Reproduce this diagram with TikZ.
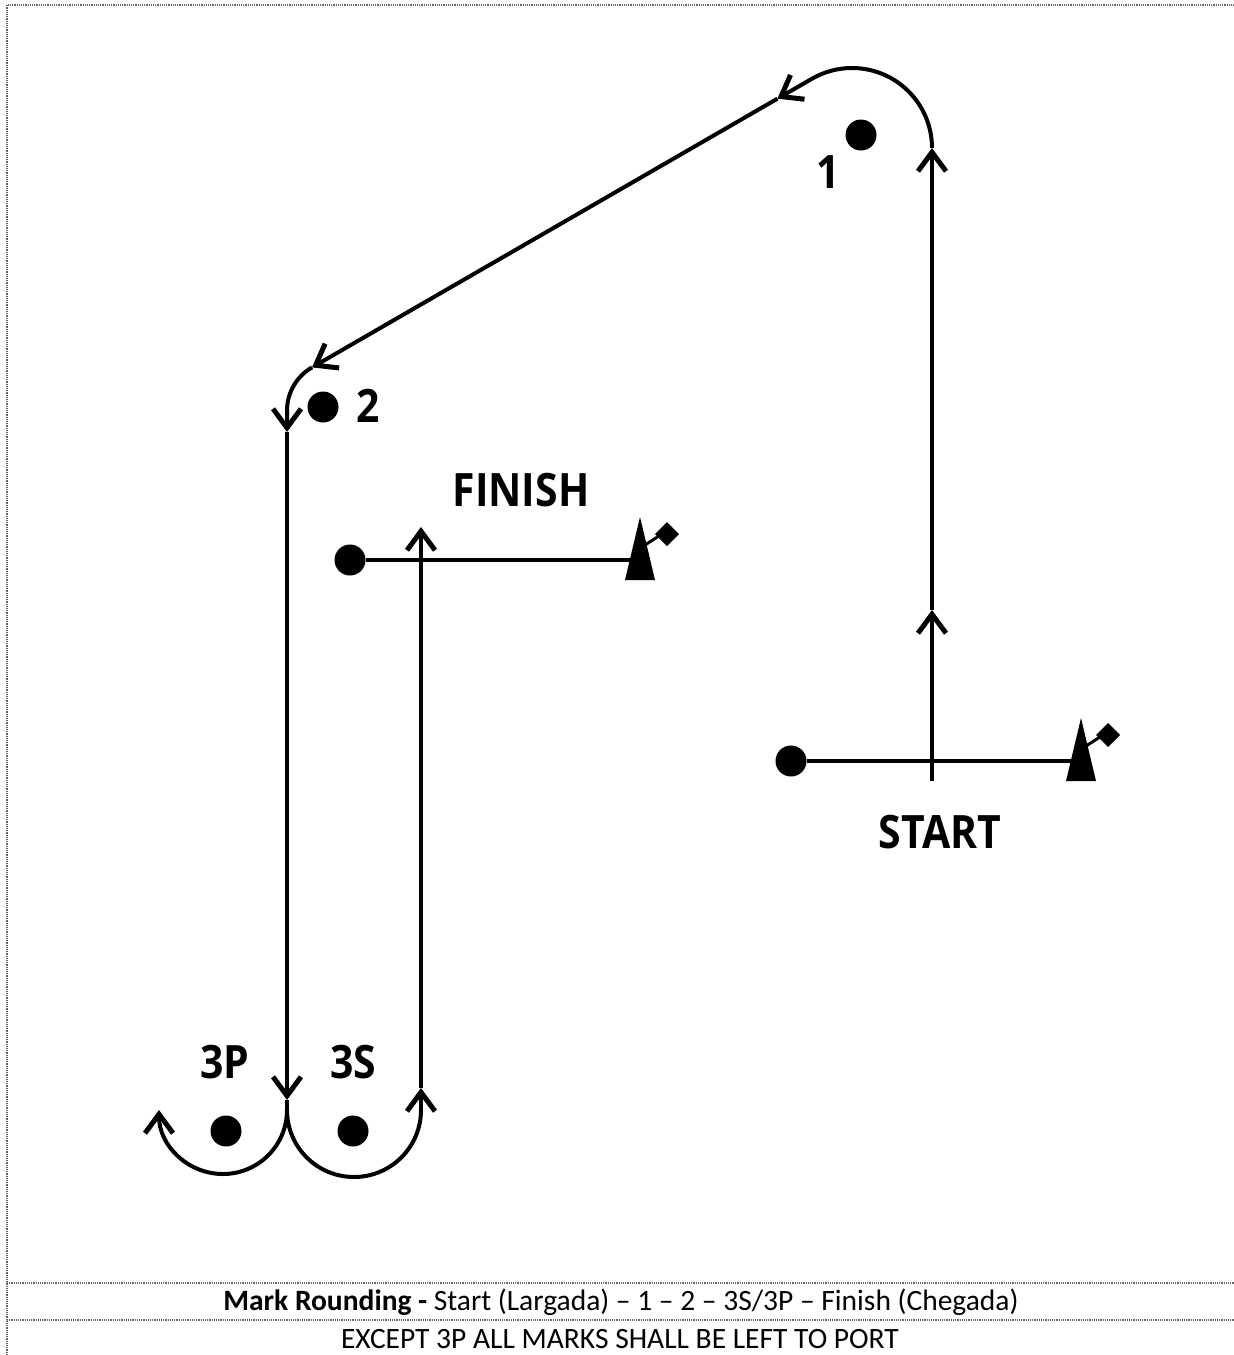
\documentclass[tikz,border=0pt]{standalone}
\usepackage{fontspec}
\setmainfont{Carlito}
\newfontfamily\labelfont{Open Sans}[FakeStretch=0.89]
\usetikzlibrary{arrows.meta}
\tikzstyle{buoy} = [circle, fill=black, inner sep=0pt, minimum size=31pt]
\tikzstyle{course} = [line width=4pt]
\tikzstyle{arrow} = [course, -{Straight Barb[length=19pt, width=28pt, line width=5pt]}]
\tikzstyle{marktext} = [font=\labelfont\bfseries\fontsize{46}{50}\selectfont, inner sep=0pt, anchor=base]
\tikzstyle{footer} = [font=\fontsize{29.5}{33}\selectfont, inner sep=0pt, anchor=base]
\tikzstyle{dotline} = [densely dotted, line width=1.2pt, black!60]
\tikzset{flagboat/.pic={
  \fill (-15,-20) -- (0,43) -- (15,-20) -- cycle;
  \draw[line width=3pt] (5,15) -- (22,26);
  \fill (27,38) -- (39,26) -- (27,14) -- (15,26) -- cycle;
}}
\begin{document}
\begin{tikzpicture}[x=1pt, y=1pt]
\useasboundingbox (0,0) rectangle (1234,-1355);
% frame
\draw[dotline] (7,-1355) -- (7,-5) -- (1234,-5);
\draw[dotline] (7,-1283) -- (1234,-1283);
\draw[dotline] (7,-1320) -- (1234,-1320);
% marks
\node (m1) [buoy] at (861,-135) {};
\node (m2) [buoy] at (323,-407) {};
\node (m3p) [buoy] at (226,-1131) {};
\node (m3s) [buoy] at (353,-1131) {};
\node (fpin) [buoy] at (350,-560) {};
\node (spin) [buoy] at (791,-761) {};
\coordinate (fboat) at (640,-560);
\coordinate (sboat) at (1081,-761);
\pic at (fboat) {flagboat};
\pic at (sboat) {flagboat};
\draw [course] (fpin) -- (fboat);
\draw [course] (spin) -- (sboat);
% labels
\node (l1) [marktext] at (828,-188) {1};
\node (l2) [marktext] at (368,-422) {2};
\node (lfinish) [marktext] at (521,-506) {FINISH};
\node (lstart) [marktext] at (940,-848) {START};
\node (l3p) [marktext] at (225,-1078) {3P};
\node (l3s) [marktext] at (353,-1078) {3S};
% course
\coordinate (c0) at (932,-781);
\coordinate (c1) at (932,-610);
\coordinate (c2) at (932,-148);
\coordinate (c3) at (777.4,-98.7);
\coordinate (c4) at (312,-367.4);
\coordinate (c6) at (287,-432);
\coordinate (c7) at (287,-1100);
\coordinate (c8) at (287,-1110);
\coordinate (c9) at (421,-1110);
\coordinate (c10) at (421,-1088);
\coordinate (c11) at (421,-527);
\draw [arrow] (c0) -- (c1);
\draw [arrow] (c1) -- (c2);
\draw [arrow] (c2) arc[start angle=0, end angle=120, radius=80] -- (c3);
\draw [arrow] (c3) -- (c4);
\draw [arrow] (c4) arc[start angle=120, end angle=180, radius=50] -- (c6);
\draw [arrow] (c6) -- (c7);
\draw [course] (c7) -- (c8);
\draw [arrow] (c8) arc[start angle=0, end angle=-180, radius=64];
\draw [course] (c8) arc[start angle=180, end angle=360, radius=67];
\draw [arrow] (c9) -- (c10);
\draw [arrow] (c10) -- (c11);
% footer
\node (rule) [footer] at (621,-1310) {\textbf{Mark Rounding -} Start (Largada) – 1 – 2 – 3S/3P – Finish (Chegada)};
\node (note) [footer] at (620,-1348) {EXCEPT 3P ALL MARKS SHALL BE LEFT TO PORT};
\end{tikzpicture}
\end{document}
